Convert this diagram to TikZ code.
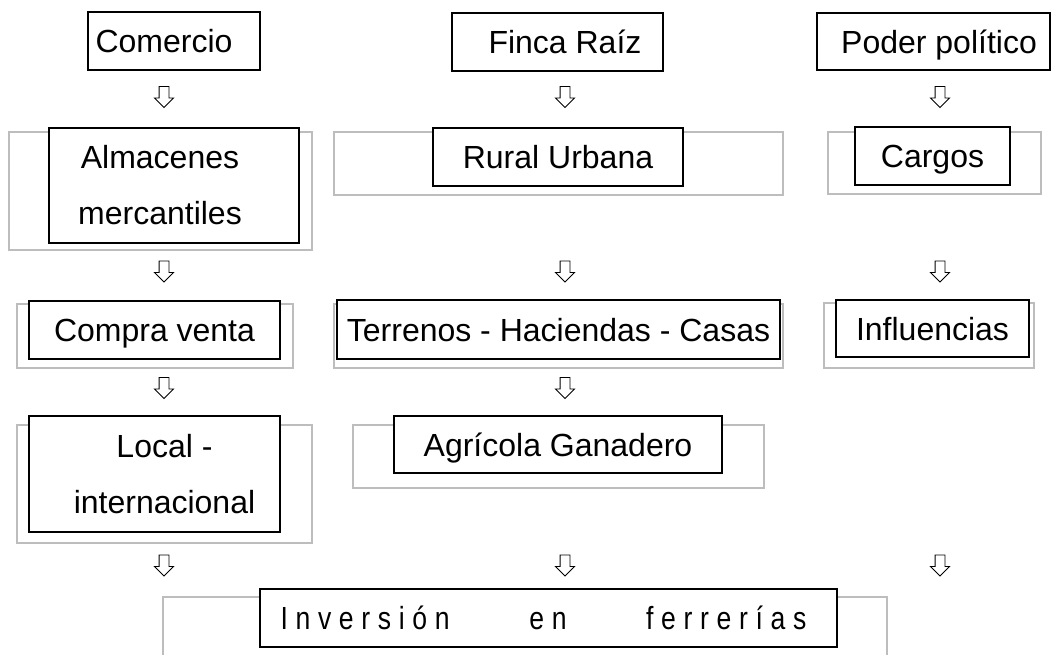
\documentclass[tikz,border=0pt]{standalone}
\usepackage{fontspec}
\setmainfont{Liberation Sans}
\newfontfamily\angosta[FakeStretch=0.83,LetterSpace=24]{Liberation Sans}
\usepackage{tikz}
\usetikzlibrary{shapes.arrows}
\definecolor{gris}{rgb}{0.74,0.74,0.74}
\tikzset{
    caja/.style={
    rectangle,draw=black,fill=white,line width=1.3pt,inner sep=0pt
    },
    linea/.style={
    caja,text height=23pt,text depth=0pt
    },
    marco/.style={
    rectangle,draw=gris,line width=1.4pt,inner sep=0pt
    },
    flecha/.style={single arrow,draw=black,line width=0.9pt,rotate=-90,inner xsep=0pt,inner ysep=4.5pt,
    minimum height=21pt,minimum width=18pt,single arrow head extend=4.5pt}
}

\begin{document}
\begin{tikzpicture}[x=1pt,y=-1pt,font=\fontsize{32}{56}\selectfont]
    \useasboundingbox (0,0) rectangle (1051,654);

    % marcos grises
    \node[marco,minimum width=303pt,minimum height=118pt] (malm) at (160.5,191) {};
    \node[marco,minimum width=449pt,minimum height=63pt] (mrural) at (558.5,163.5) {};
    \node[marco,minimum width=213pt,minimum height=62pt] (mcargos) at (934.5,163) {};
    \node[marco,minimum width=276pt,minimum height=64pt] (mcompra) at (155,336) {};
    \node[marco,minimum width=449pt,minimum height=64pt] (mterr) at (558.5,336) {};
    \node[marco,minimum width=210pt,minimum height=65pt] (minfl) at (929,335.5) {};
    \node[marco,minimum width=295pt,minimum height=118pt] (mlocal) at (164.5,484) {};
    \node[marco,minimum width=411pt,minimum height=63pt] (magri) at (558.5,456.5) {};
    \node[marco,minimum width=724pt,minimum height=73pt] (minv) at (525,633.5) {};

    % cajas
    \node[linea,minimum width=172pt,minimum height=58pt] (comercio) at (174,41) {Comercio\hspace*{20pt}};
    \node[linea,minimum width=211pt,minimum height=58pt] (finca) at (557.5,42) {\hspace*{15pt}Finca Raíz};
    \node[linea,minimum width=233pt,minimum height=57pt] (poder) at (933.5,41.5) {\hspace*{11pt}Poder político};

    \node[caja,align=center,minimum width=250pt,minimum height=115pt] (almacenes) at (174,185.5) {Almacenes\hspace*{28pt}\null\\mercantiles\hspace*{28pt}\null};
    \node[linea,minimum width=250pt,minimum height=58pt] (rural) at (558,157) {Rural Urbana};
    \node[linea,minimum width=155pt,minimum height=58pt] (cargos) at (932.5,156) {Cargos};

    \node[linea,minimum width=251pt,minimum height=58pt] (compra) at (154.5,330) {Compra venta};
    \node[linea,minimum width=443pt,minimum height=59pt] (terrenos) at (558.5,329.5) {Terrenos - Haciendas - Casas};
    \node[linea,minimum width=193pt,minimum height=57pt] (influencias) at (932.5,328.5) {Influencias};

    \node[caja,align=center,minimum width=251pt,minimum height=116pt] (local) at (154.5,474) {\hspace*{20pt}Local -\\\hspace*{20pt}internacional};
    \node[linea,minimum width=328pt,minimum height=57pt] (agricola) at (558,444.5) {Agrícola Ganadero};

    \node[linea,minimum width=577pt,minimum height=58pt] (inversion) at (548.5,618) {\angosta\makebox[526pt][l]{Inversión\hfill en\hfill ferrerías}\hspace*{10pt}};

    % flechas
    \node[flecha] (fcom1) at (164,94.5) {};
    \node[flecha] (ffin1) at (565,94.5) {};
    \node[flecha] (fpod1) at (940,94.5) {};
    \node[flecha] (fcom2) at (164,269) {};
    \node[flecha] (ffin2) at (565,269) {};
    \node[flecha] (fpod2) at (940,269) {};
    \node[flecha] (fcom3) at (164,385.5) {};
    \node[flecha] (ffin3) at (565,385.5) {};
    \node[flecha] (fcom4) at (164,563) {};
    \node[flecha] (ffin4) at (565,563) {};
    \node[flecha] (fpod4) at (940,563) {};

\end{tikzpicture}
\end{document}
